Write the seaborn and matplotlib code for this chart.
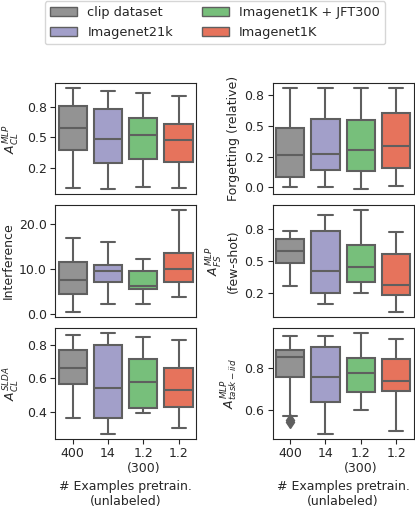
import numpy as np
import pandas as pd
import matplotlib
matplotlib.use("Agg")
import matplotlib.pyplot as plt
from matplotlib.patches import Patch
from matplotlib.ticker import FormatStrFormatter
import seaborn as sns

# datasets / x positions
datasets = ["clip dataset", "Imagenet21k", "Imagenet1K + JFT300", "Imagenet1K"]
n_examples = ["400", "14", "1.2\n(300)", "1.2"]
colors = ["#939393", "#a29fc9", "#77bf7b", "#e6735c"]

# box summaries: [low whisker, q1, median, q3, high whisker] per dataset
acl_mlp = [[0.079, 0.393, 0.574, 0.756, 0.908],
           [0.071, 0.289, 0.487, 0.731, 0.883],
           [0.087, 0.324, 0.522, 0.657, 0.866],
           [0.079, 0.297, 0.475, 0.607, 0.844]]
forgetting = [[0.005, 0.085, 0.260, 0.484, 0.806],
              [0.005, 0.139, 0.274, 0.556, 0.806],
              [-0.014, 0.134, 0.300, 0.548, 0.806],
              [0.016, 0.161, 0.335, 0.601, 0.806]]
interference = [[0.5, 4.4, 7.4, 11.4, 16.8],
                [2.2, 7.1, 9.4, 10.9, 15.8],
                [2.2, 5.55, 6.2, 9.55, 12.1],
                [3.7, 7.0, 10.0, 13.4, 22.9]]
afs_mlp = [[0.308, 0.482, 0.580, 0.671, 0.735],
           [0.169, 0.254, 0.425, 0.735, 0.857],
           [0.254, 0.335, 0.451, 0.624, 0.893],
           [0.107, 0.236, 0.314, 0.554, 0.723]]
acl_slda = [[0.361, 0.564, 0.659, 0.767, 0.860],
            [0.269, 0.365, 0.541, 0.797, 0.870],
            [0.393, 0.424, 0.580, 0.717, 0.847],
            [0.302, 0.430, 0.529, 0.659, 0.825]]
atask_iid = [[0.570, 0.756, 0.850, 0.882, 0.949],
             [0.485, 0.635, 0.753, 0.899, 0.952],
             [0.599, 0.685, 0.773, 0.847, 0.965],
             [0.498, 0.687, 0.737, 0.842, 0.938]]
atask_iid_fliers = [[0.540, 0.553], [], [], []]


def box_points(stats, fliers=()):
    # values whose quartiles (linear interpolation) land on the read-off summary
    lo, q1, med, q3, hi = stats
    if not fliers:
        return [lo, q1, med, q3, hi]
    return list(fliers) + [lo, q1, q1, q1, med, q3, q3, q3, hi, hi, hi]


def make_df(summary, fliers=None):
    rows = []
    for i, st in enumerate(summary):
        fl = fliers[i] if fliers else ()
        for v in box_points(st, fl):
            rows.append({"pretrain": n_examples[i], "dataset": datasets[i], "value": v})
    return pd.DataFrame(rows)


panels = [
    (make_df(acl_mlp), r"$A_{CL}^{MLP}$", [0.25, 0.5, 0.75]),
    (make_df(forgetting), "Forgetting (relative)", [0.0, 0.25, 0.5, 0.75]),
    (make_df(interference), "Interference", [0, 10, 20]),
    (make_df(afs_mlp), "$A_{FS}^{MLP}$\n(few-shot)", [0.25, 0.5, 0.75]),
    (make_df(acl_slda), r"$A_{CL}^{SLDA}$", [0.4, 0.6, 0.8]),
    (make_df(atask_iid, atask_iid_fliers), r"$A_{task-iid}^{MLP}$", [0.6, 0.8]),
]

sns.set_style("ticks")
plt.rcParams["font.family"] = ["DejaVu Sans"]
fs = 9

fig, axes = plt.subplots(3, 2, figsize=(4.15, 5.08), dpi=100)
fig.subplots_adjust(left=0.1325, right=0.997, top=0.8366, bottom=0.1358,
                    wspace=0.54, hspace=0.1)

pal = dict(zip(datasets, colors))
for k, (df, ylab, yt) in enumerate(panels):
    ax = axes.flat[k]
    sns.boxplot(data=df, x="pretrain", y="value", hue="dataset", palette=pal,
                order=n_examples, hue_order=datasets, dodge=False, legend=False,
                saturation=1, linecolor="#5f5f5f", linewidth=1.5, width=0.8,
                flierprops=dict(marker="d", markersize=6,
                                markerfacecolor="#5f5f5f", markeredgecolor="#5f5f5f"),
                ax=ax)
    ax.set_yticks(yt)
    ax.yaxis.set_major_formatter(FormatStrFormatter("%.1f"))
    ax.set_ylabel(ylab, fontsize=fs, labelpad=3)
    ax.tick_params(labelsize=fs, pad=2.5)
    if k < 4:
        ax.tick_params(axis="x", bottom=False, labelbottom=False)
        ax.set_xlabel("")
    else:
        ax.set_xlabel("# Examples pretrain.\n(unlabeled)", fontsize=fs, labelpad=3)

handles = [Patch(facecolor=c, edgecolor="#5f5f5f", label=d) for d, c in zip(datasets, colors)]
fig.legend(handles=handles, loc="upper center", bbox_to_anchor=(0.518, 1.0),
           ncol=2, fontsize=fs + 0.3, frameon=True, borderaxespad=0.1,
           handlelength=2.1, columnspacing=2.2)

fig.savefig("out.png", dpi=100)
